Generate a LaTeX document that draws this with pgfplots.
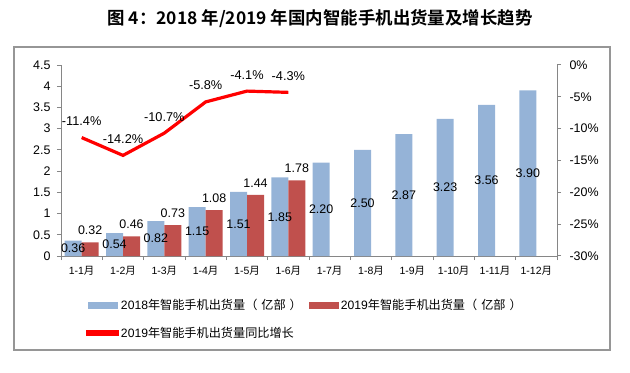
\documentclass[border=0pt]{standalone}
\usepackage{pgfplots}
\pgfplotsset{compat=1.18}
\usepackage{fontspec}
\setmainfont{Liberation Sans}
\newfontfamily\cjk[BoldFont={Noto Sans CJK SC Bold}]{Noto Sans CJK SC}
\definecolor{barblue}{RGB}{149,179,215}
\definecolor{barred}{RGB}{192,80,77}
\definecolor{axgray}{RGB}{134,134,134}
\definecolor{frgray}{RGB}{150,150,150}
\newcommand{\yue}{{\cjk 月}}
\newcommand{\yibu}{{\cjk （}\hspace{4bp}{\cjk 亿部}\hspace{4bp}{\cjk ）}}
\begin{document}
\begin{tikzpicture}
\useasboundingbox (0bp,0bp) rectangle (630bp,373bp);
\draw[frgray, line width=1.6bp] (14bp,23bp) rectangle (610bp,326bp);
\node[font=\cjk\bfseries\fontsize{17.5}{20}\selectfont] at (320bp,354bp) {图 4：2018 年/2019 年国内智能手机出货量及增长趋势};
\begin{axis}[
  at={(61bp,117bp)}, anchor=south west, scale only axis,
  width=496bp, height=191bp,
  xmin=0.5, xmax=12.5, ymin=0, ymax=4.5,
  ytick={0,0.5,1,1.5,2,2.5,3,3.5,4,4.5},
  yticklabels={0,0.5,1,1.5,2,2.5,3,3.5,4,4.5},
  xtick={1,...,12},
  xticklabels={1-1\yue,1-2\yue,1-3\yue,1-4\yue,1-5\yue,1-6\yue,1-7\yue,1-8\yue,1-9\yue,1-10\yue,1-11\yue,1-12\yue},
  minor xtick={0.5,1.5,...,12.5},
  major x tick style={draw=none},
  axis x line*=bottom, axis y line*=left,
  axis line style={axgray, line width=1bp, -},
  tick style={axgray, line width=1bp},
  tick align=outside, major tick length=4bp, minor tick length=4bp,
  x tick label style={font=\fontsize{10.5}{12}\selectfont, yshift=-3bp},
  y tick label style={font=\fontsize{12.5}{14}\selectfont, xshift=-3bp},
  /pgf/number format/assume math mode=true,
  legend columns=2, legend cell align=left,
  legend style={draw=none, fill=none, inner sep=0pt, at={(0.05,-0.215)}, anchor=north west,
    font=\fontsize{12.2}{14}\selectfont, row sep=12bp,
    /tikz/every even column/.append style={column sep=5bp}},
  clip=false,
]
\addplot[ybar, fill=barblue, draw=none, bar width=17bp, bar shift=-8.5bp,
  legend image code/.code={\fill[barblue] (0bp,-3.5bp) rectangle (30bp,3.5bp);},
  visualization depends on={rawy \as \ry},
  nodes near coords={\pgfmathprintnumber[fixed,zerofill,precision=2]{\pgfplotspointmeta}},
  every node near coord/.append style={anchor=center, xshift=-8.5bp, yshift={-\ry*21.3pt}, font=\fontsize{12.5}{14}\selectfont, black}]
  coordinates {(1,0.36) (2,0.54) (3,0.82) (4,1.15) (5,1.51) (6,1.85) (7,2.20) (8,2.50) (9,2.87) (10,3.23) (11,3.56) (12,3.90)};
\addlegendentry{2018{\cjk 年智能手机出货量}\yibu}
\addplot[ybar, fill=barred, draw=none, bar width=17bp, bar shift=8.5bp,
  legend image code/.code={\fill[barred] (0bp,-3.5bp) rectangle (30bp,3.5bp);},
  nodes near coords={\pgfmathprintnumber[fixed,zerofill,precision=2]{\pgfplotspointmeta}},
  every node near coord/.append style={anchor=south, xshift=8.5bp, yshift=4bp, font=\fontsize{12.5}{14}\selectfont, black}]
  coordinates {(1,0.32) (2,0.46) (3,0.73) (4,1.08) (5,1.44) (6,1.78)};
\addlegendentry{2019{\cjk 年智能手机出货量}\yibu}
\addlegendimage{red, line width=3bp, legend image code/.code={\fill[red] (0bp,-1.5bp) rectangle (30bp,1.5bp);}}
\addlegendentry{2019{\cjk 年智能手机出货量同比增长}}
\end{axis}
\begin{axis}[
  at={(61bp,117bp)}, anchor=south west, scale only axis,
  width=496bp, height=191bp,
  xmin=0.5, xmax=12.5, ymin=-30, ymax=0,
  ytick={-30,-25,-20,-15,-10,-5,0},
  yticklabels={-30\%,-25\%,-20\%,-15\%,-10\%,-5\%,0\%},
  axis y line*=right, axis x line=none,
  axis line style={axgray, line width=1bp, -},
  tick style={axgray, line width=1bp},
  tick align=outside, major tick length=4bp,
  y tick label style={font=\fontsize{12.5}{14}\selectfont, xshift=5bp},
  /pgf/number format/assume math mode=true,
  clip=false,
]
\addplot[red, line width=3.2bp, mark=none,
  nodes near coords={\pgfmathprintnumber[fixed,zerofill,precision=1]{\pgfplotspointmeta}\%},
  every node near coord/.append style={anchor=south, yshift=7bp, font=\fontsize{12.8}{14}\selectfont, black}]
  coordinates {(1,-11.4) (2,-14.2) (3,-10.7) (4,-5.8) (5,-4.1) (6,-4.3)};
\end{axis}
\end{tikzpicture}
\end{document}
